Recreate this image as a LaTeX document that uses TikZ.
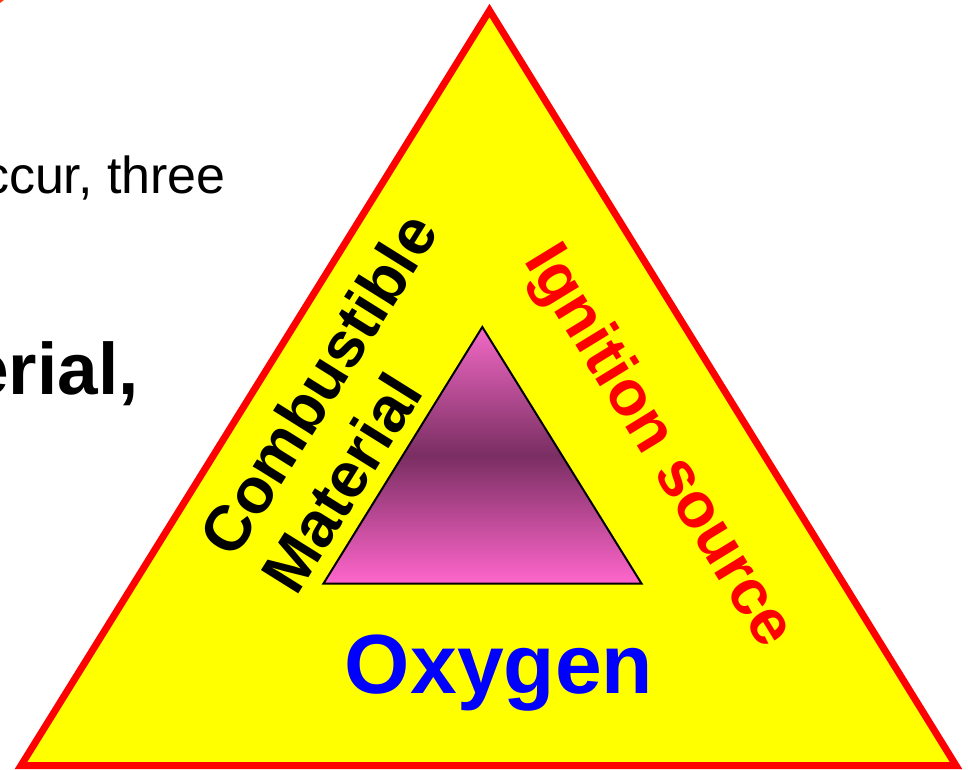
\documentclass[tikz,border=0pt]{standalone}
\usepackage{fontspec}
\setmainfont{Liberation Sans}
\definecolor{fireyellow}{HTML}{FFFF00}
\definecolor{firered}{HTML}{FF0000}
\definecolor{oxyblue}{HTML}{0000FF}
\definecolor{pinktop}{HTML}{F26AC6}
\definecolor{pinkbot}{HTML}{FF66CC}
\definecolor{pinkdark}{HTML}{7A2E62}
\definecolor{cornerred}{HTML}{FF3A10}
\tikzset{
  outertri/.style={fill=fireyellow, draw=firered, line width=7pt, line join=miter},
  innertri/.style={top color=pinktop, bottom color=pinkbot, middle color=pinkdark, draw=black, line width=2pt, line join=miter},
  sidelbl/.style={font=\bfseries\fontsize{64}{64}\selectfont, inner sep=0pt},
  oxylbl/.style={font=\bfseries\fontsize{84}{84}\selectfont, text=oxyblue, inner sep=0pt},
  bodytxt/.style={font=\fontsize{52}{52}\selectfont, inner sep=0pt, anchor=base east},
  boldtxt/.style={font=\bfseries\fontsize{73}{73}\selectfont, inner sep=0pt, anchor=base east}
}
\begin{document}
\begin{tikzpicture}[x=1pt,y=-1pt]
\useasboundingbox (0,0) rectangle (968,769);
\clip (0,0) rectangle (968,769);
\fill[white] (0,0) rectangle (968,769);
% small corner fragment
\fill[cornerred] (0,0) -- (4,0) -- (0,3) -- cycle;
% left text fragments
\node[bodytxt] (t1) at (226,193) {occur, three};
\node[boldtxt] (t2) at (139,394) {material,};
% outer triangle
\coordinate (A) at (489.5,10.5);
\coordinate (B) at (21,765.5);
\coordinate (C) at (956,765.5);
\path[outertri] (A) -- (B) -- (C) -- cycle;
% inner triangle
\coordinate (P) at (482.3,327);
\coordinate (Q) at (323.5,583.5);
\coordinate (R) at (641.5,583.5);
\path[innertri] (P) -- (Q) -- (R) -- cycle;
% labels
\node[sidelbl, rotate=58] (comb) at (318,384) {Combustible};
\node[sidelbl, rotate=58] (mat) at (341,483) {Material};
\node[sidelbl, text=firered, rotate=-58.5] (ign) at (657,447) {Ignition source};
\node[oxylbl, anchor=base] (oxy) at (499,693) {Oxygen};
\end{tikzpicture}
\end{document}
